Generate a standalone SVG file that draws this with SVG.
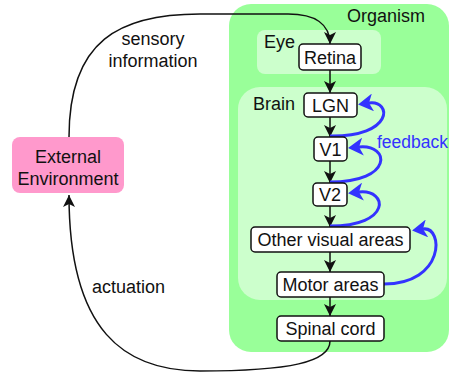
<svg xmlns="http://www.w3.org/2000/svg" width="450" height="373" viewBox="0 0 450 373">
<style>
text{font-family:"Liberation Sans",Arial,sans-serif;font-size:18px;fill:#111}
.node{fill:#fff;stroke:#111;stroke-width:1.5}
.c{text-anchor:middle}
.blk{fill:none;stroke:#111;stroke-width:1.5}
.blu{fill:none;stroke:#3333ff;stroke-width:3}
</style>
<defs>
<marker id="ab" markerUnits="userSpaceOnUse" markerWidth="14" markerHeight="12" viewBox="0 0 14 12" refX="12" refY="6" orient="auto">
<path d="M0,0 L12,6 L0,12 L3,6 Z" fill="#111"/>
</marker>
<marker id="au" markerUnits="userSpaceOnUse" markerWidth="16" markerHeight="18" viewBox="0 0 16 18" refX="4" refY="9" orient="auto">
<path d="M0,0 L15,9 L0,18 L4,9 Z" fill="#3333ff"/>
</marker>
</defs>
<g id="organism">
<rect x="229" y="4" width="220" height="348" rx="22" fill="#99ff99"/>
<text x="347" y="22">Organism</text>
</g>
<g id="eye">
<rect x="257" y="30" width="124" height="44" rx="8" fill="#ccffcc"/>
<text x="264" y="48">Eye</text>
</g>
<g id="brain">
<rect x="238" y="87" width="209" height="213" rx="22" fill="#ccffcc"/>
<text x="253" y="110">Brain</text>
</g>
<g id="connectors">
<path class="blk" d="M69 137 C69 40 120 14 200 14 L288 14 C315 14 330 24 330 44" marker-end="url(#ab)"/>
<path class="blk" d="M330 341 C330 362 290 371 200 371 C125 371 69 332 69 195" marker-end="url(#ab)"/>
<path class="blk" d="M330 70 L330 93" marker-end="url(#ab)"/>
<path class="blk" d="M330 117 L330 137" marker-end="url(#ab)"/>
<path class="blk" d="M330 161 L330 183" marker-end="url(#ab)"/>
<path class="blk" d="M330 206 L330 227" marker-end="url(#ab)"/>
<path class="blk" d="M330 252 L330 272" marker-end="url(#ab)"/>
<path class="blk" d="M330 297 L330 316" marker-end="url(#ab)"/>
<path class="blu" d="M330 136 C394 137 392 100 369 103" marker-end="url(#au)"/>
<path class="blu" d="M330 182 C394 182 390 144 359 147" marker-end="url(#au)"/>
<path class="blu" d="M330 226 C392 226 388 189 359 192" marker-end="url(#au)"/>
<path class="blu" d="M384 284 C445 284 444 226 423 229" marker-end="url(#au)"/>
</g>
<g id="external">
<rect x="12" y="137" width="112" height="56" rx="8" fill="#ff99cc"/>
<text class="c" x="68" y="163">External</text>
<text class="c" x="68" y="185">Environment</text>
</g>
<g id="labels">
<text class="c" x="153" y="45">sensory</text>
<text class="c" x="153" y="67">information</text>
<text x="92" y="293">actuation</text>
<text x="377" y="148" style="fill:#3333ff;font-size:17.5px">feedback</text>
</g>
<g id="retina"><rect class="node" x="299" y="44" width="62" height="26" rx="4"/><text class="c" x="330" y="64">Retina</text></g>
<g id="lgn"><rect class="node" x="304" y="93" width="53" height="24" rx="4"/><text class="c" x="330.5" y="111.5">LGN</text></g>
<g id="v1"><rect class="node" x="314" y="137" width="33" height="24" rx="4"/><text class="c" x="330.5" y="155.5">V1</text></g>
<g id="v2"><rect class="node" x="313" y="183" width="34" height="23" rx="4"/><text class="c" x="330" y="201">V2</text></g>
<g id="other"><rect class="node" x="251" y="227" width="159" height="25" rx="4"/><text class="c" x="330.5" y="246">Other visual areas</text></g>
<g id="motor"><rect class="node" x="277" y="272" width="107" height="25" rx="4"/><text class="c" x="330.5" y="291">Motor areas</text></g>
<g id="spinal"><rect class="node" x="277" y="316" width="107" height="25" rx="4"/><text class="c" x="330.5" y="335">Spinal cord</text></g>
</svg>
